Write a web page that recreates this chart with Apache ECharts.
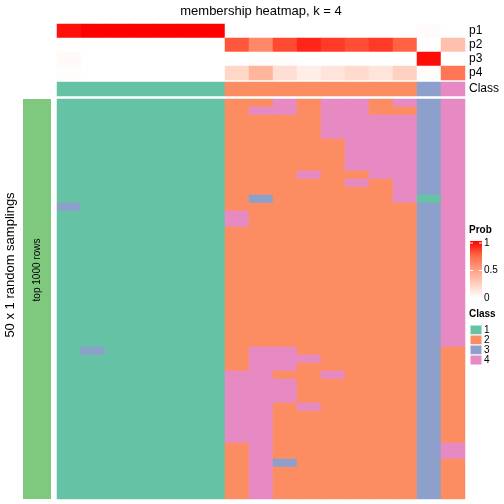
<!DOCTYPE html>
<html>
<head>
<meta charset="utf-8">
<style>
html,body{margin:0;padding:0;background:#fff;}
#chart{width:504px;height:504px;}
</style>
<script src="https://cdn.jsdelivr.net/npm/echarts@6/dist/echarts.min.js"></script>
</head>
<body>
<div id="chart"></div>
<script>
// ---- data ----
const columns = ['c1','c2','c3','c4','c5','c6','c7','c8','c9','c10','c11','c12','c13','c14','c15','c16','c17'];
const probRows = ['p1','p2','p3','p4'];
const p1 = [0.96,1,1,1,1,1,1, 0,0,0,0,0,0,0,0, 0.02,0];
const p2 = [0,0,0,0,0,0,0, 0.79,0.60,0.82,0.91,0.86,0.81,0.86,0.76, 0,0.32];
const p3 = [0.03,0,0,0,0,0,0, 0,0.01,0.01,0,0,0,0,0, 0.97,0];
const p4 = [0.01,0,0,0,0,0,0, 0.21,0.39,0.17,0.09,0.14,0.19,0.14,0.24, 0.01,0.68];
const classNames = ['1','2','3','4'];
const classColors = ['#66c2a5','#fc8d62','#8da0cb','#e78ac3'];
const colClass = [1,1,1,1,1,1,1,2,2,2,2,2,2,2,2,3,4];
const probTicks = ['1','0.5','0'];
// 50 sampling rows x 17 columns, class of each cell
const samplingRows = [
'11111112242442434',
'11111112442442234',
'11111112222444434',
'11111112222444434',
'11111112222444434',
'11111112222244434',
'11111112222244434',
'11111112222244434',
'11111112222244434',
'11111112224224434',
'11111112222242434',
'11111112222222434',
'11111112322222414',
'31111112222222234',
'11111114222222234',
'11111114222222234',
'11111112222222234',
'11111112222222234',
'11111112222222234',
'11111112222222234',
'11111112222222234',
'11111112222222234',
'11111112222222234',
'11111112222222234',
'11111112222222234',
'11111112222222234',
'11111112222222234',
'11111112222222234',
'11111112222222234',
'11111112222222234',
'11111112222222234',
'13111112442222232',
'11111112444222232',
'11111112442222232',
'11111114422422232',
'11111114442222232',
'11111114442222232',
'11111114442222232',
'11111114424222232',
'11111114422222232',
'11111114422222232',
'11111114422222232',
'11111114422222232',
'11111112422222234',
'11111112422222234',
'11111112432222232',
'11111112422222232',
'11111112422222232',
'11111112422222232',
'11111112422222232'
];

// ---- build ----
const probData = [];
[p1,p2,p3,p4].forEach((arr, r) => arr.forEach((v, c) => probData.push([c, r, v])));
const classData = colClass.map((v, c) => [c, 0, v]);
const mainData = [];
samplingRows.forEach((s, r) => { for (let c = 0; c < s.length; c++) mainData.push([c, r, +s[c]]); });
const rowIds = samplingRows.map((_, i) => 'r' + (i + 1));

const FONT = 'Liberation Sans, Arial, Helvetica, sans-serif';
const probStops = ['#ffffff','#ffcfbe','#ff9e81','#ff6746','#ff0000'];

const L = 57, W = 408;
const grids = [
  {left: L, top: 24, width: W, height: 56},
  {left: L, top: 82, width: W, height: 14},
  {left: L, top: 99, width: W, height: 400}
];
const hiddenX = i => ({type:'category', data: columns, gridIndex: i, show: false});

const chart = echarts.init(document.getElementById('chart'), null, {renderer: 'canvas'});

const legendGraphics = [];
// Prob legend
legendGraphics.push({type:'text', left: 469, top: 225, style:{text:'Prob', font:'bold 10px ' + FONT, fill:'#000'}});
legendGraphics.push({type:'rect', shape:{x:470, y:241, width:12, height:57}, style:{fill: new echarts.graphic.LinearGradient(0,0,0,1, probStops.slice().reverse().map((c,i)=>({offset:i/(probStops.length-1), color:c})))}});
const tickY = [243, 270.5, 298];
probTicks.forEach((t, i) => {
  legendGraphics.push({type:'text', x: 484, y: tickY[i], style:{text:t, font:'10px ' + FONT, fill:'#000', textVerticalAlign:'middle'}});
  if (i < 2) {
    legendGraphics.push({type:'line', shape:{x1:470, y1:tickY[i], x2:473, y2:tickY[i]}, style:{stroke:'#fff', lineWidth:1}});
    legendGraphics.push({type:'line', shape:{x1:479, y1:tickY[i], x2:482, y2:tickY[i]}, style:{stroke:'#fff', lineWidth:1}});
  }
});
// Class legend
legendGraphics.push({type:'text', left: 469, top: 309, style:{text:'Class', font:'bold 10px ' + FONT, fill:'#000'}});
classNames.forEach((n, i) => {
  legendGraphics.push({type:'rect', shape:{x:470, y:325 + 10*i, width:12, height:10}, style:{fill:classColors[i], stroke:'#ffffff', lineWidth:1}});
  legendGraphics.push({type:'text', x: 484, y: 330.5 + 10*i, style:{text:n, font:'10px ' + FONT, fill:'#000', textVerticalAlign:'middle'}});
});

chart.setOption({
  animation: false,
  backgroundColor: '#ffffff',
  grid: grids,
  xAxis: [hiddenX(0), hiddenX(1), hiddenX(2)],
  yAxis: [
    {type:'category', gridIndex:0, data: probRows, inverse: true, position:'right',
     axisLine:{show:false}, axisTick:{show:false}, splitLine:{show:false},
     axisLabel:{interval:0, margin:4, color:'#000', fontSize:12, fontFamily: FONT}},
    {type:'category', gridIndex:1, data: ['Class'], position:'right',
     axisLine:{show:false}, axisTick:{show:false}, splitLine:{show:false},
     axisLabel:{interval:0, margin:4, color:'#000', fontSize:12, fontFamily: FONT}},
    {type:'category', gridIndex:2, data: rowIds, inverse: true, show:false}
  ],
  visualMap: [
    {type:'continuous', min:0, max:1, seriesIndex:0, show:false, inRange:{color: probStops}},
    {type:'piecewise', seriesIndex:[1,2], show:false,
     pieces: classNames.map((n,i)=>({value:+n, color:classColors[i]}))}
  ],
  series: [
    {type:'heatmap', xAxisIndex:0, yAxisIndex:0, data: probData, itemStyle:{borderWidth:0}},
    {type:'heatmap', xAxisIndex:1, yAxisIndex:1, data: classData, itemStyle:{borderWidth:0}},
    {type:'heatmap', xAxisIndex:2, yAxisIndex:2, data: mainData, itemStyle:{borderWidth:0}}
  ],
  graphic: [
    {type:'text', x: 261, y: 11, style:{text:'membership heatmap, k = 4', font:'13px ' + FONT, fill:'#000', textAlign:'center', textVerticalAlign:'middle'}},
    {type:'rect', shape:{x:23, y:99, width:28, height:400}, style:{fill:'#7fc97f'}},
    {type:'text', x: 37, y: 270, rotation: Math.PI/2, style:{text:'top 1000 rows', font:'10px ' + FONT, fill:'#000', textAlign:'center', textVerticalAlign:'middle'}},
    {type:'text', x: 10, y: 265, rotation: Math.PI/2, style:{text:'50 x 1 random samplings', font:'13px ' + FONT, fill:'#000', textAlign:'center', textVerticalAlign:'middle'}}
  ].concat(legendGraphics)
});
</script>
</body>
</html>
